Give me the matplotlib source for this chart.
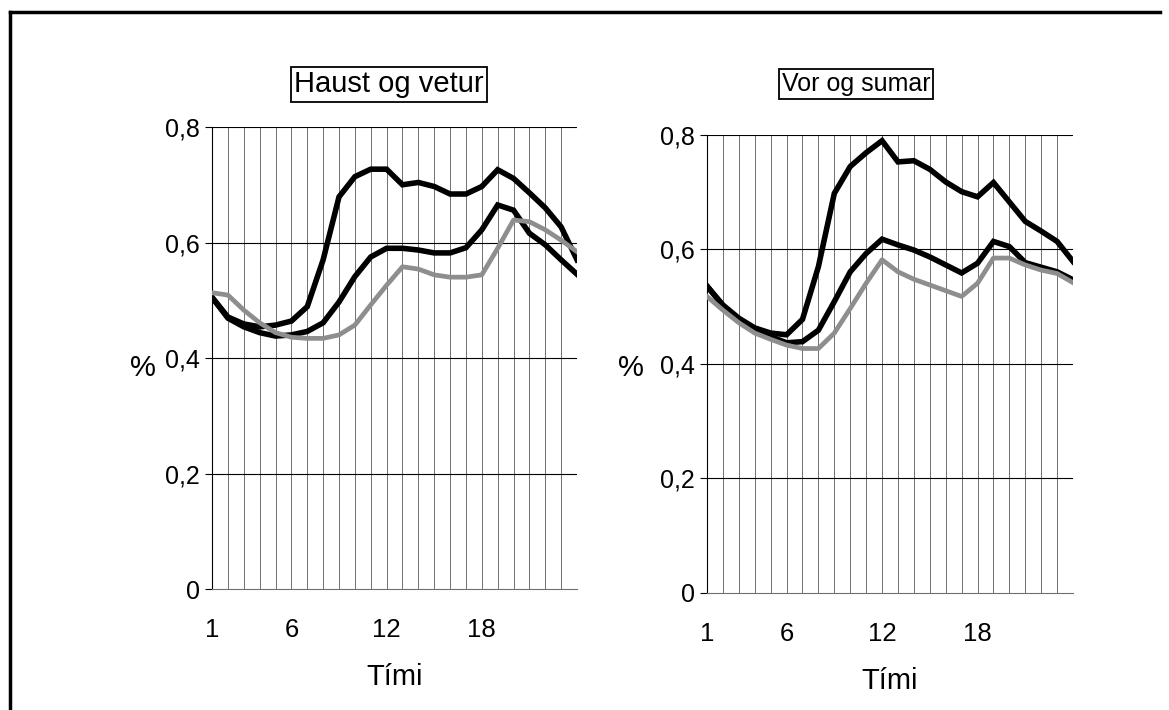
import matplotlib.pyplot as plt
from matplotlib.lines import Line2D

plt.rcParams['font.family'] = ['Liberation Sans', 'DejaVu Sans']

hours = list(range(1, 25))

# Haust og vetur
hv_top = [0.505, 0.471, 0.459, 0.454, 0.457, 0.464, 0.489, 0.570, 0.679, 0.714, 0.727, 0.727,
          0.700, 0.704, 0.697, 0.684, 0.684, 0.697, 0.726, 0.711, 0.686, 0.660, 0.627, 0.570]
hv_mid = [0.505, 0.469, 0.454, 0.444, 0.438, 0.440, 0.446, 0.461, 0.497, 0.541, 0.575, 0.590,
          0.590, 0.587, 0.582, 0.582, 0.591, 0.622, 0.665, 0.656, 0.616, 0.596, 0.570, 0.545]
hv_grey = [0.513, 0.509, 0.483, 0.461, 0.444, 0.436, 0.434, 0.434, 0.440, 0.457, 0.492, 0.526,
           0.558, 0.554, 0.544, 0.540, 0.540, 0.544, 0.590, 0.639, 0.636, 0.622, 0.604, 0.584]

# Vor og sumar
vs_top = [0.536, 0.503, 0.480, 0.463, 0.454, 0.451, 0.478, 0.570, 0.698, 0.745, 0.769, 0.790,
          0.753, 0.755, 0.740, 0.718, 0.701, 0.692, 0.717, 0.683, 0.649, 0.632, 0.614, 0.579]
vs_mid = [0.536, 0.502, 0.476, 0.458, 0.448, 0.437, 0.439, 0.459, 0.509, 0.561, 0.593, 0.618,
          0.608, 0.599, 0.587, 0.573, 0.559, 0.576, 0.614, 0.605, 0.577, 0.569, 0.561, 0.547]
vs_grey = [0.518, 0.494, 0.472, 0.454, 0.443, 0.433, 0.427, 0.427, 0.454, 0.497, 0.541, 0.582,
           0.561, 0.548, 0.538, 0.528, 0.518, 0.541, 0.585, 0.585, 0.573, 0.564, 0.558, 0.542]

yticks = [0, 0.2, 0.4, 0.6, 0.8]
ytick_labels = ['0', '0,2', '0,4', '0,6', '0,8']
xticks = [1, 6, 12, 18]

fig = plt.figure(figsize=(11.69, 7.10), dpi=100)

ax1 = fig.add_axes([0.1814, 0.1704, 0.3122, 0.6507])
ax2 = fig.add_axes([0.6048, 0.1648, 0.3131, 0.6451])

panels = [(ax1, hv_top, hv_mid, hv_grey), (ax2, vs_top, vs_mid, vs_grey)]

for ax, top, mid, grey in panels:
    for h in hours:
        ax.axvline(h, color='#707070', lw=0.7, zorder=1)
    for y in yticks[1:]:
        ax.axhline(y, color='black', lw=0.8, zorder=1)
    ax.plot(hours, top, color='black', lw=4, solid_joinstyle='miter', zorder=3)
    ax.plot(hours, mid, color='black', lw=4, solid_joinstyle='miter', zorder=3)
    ax.plot(hours, grey, color='#8e8e8e', lw=3.4, zorder=4)
    ax.set_xlim(1, 24)
    ax.set_ylim(0, 0.8)
    ax.set_yticks(yticks)
    ax.set_yticklabels(ytick_labels, fontsize=18)
    ax.set_xticks(xticks)
    ax.set_xticklabels([str(t) for t in xticks], fontsize=18.5)
    ax.tick_params(axis='y', length=5, width=0.8, pad=4)
    ax.tick_params(axis='x', length=0, pad=21)
    for s in ['top', 'right']:
        ax.spines[s].set_visible(False)
    ax.spines['left'].set_linewidth(0.8)
    ax.spines['bottom'].set_linewidth(0.8)
    ax.spines['bottom'].set_color('#707070')
    ax.set_xlabel('Tími', fontsize=21, labelpad=15)

fig.text(143 / 1169, 1 - 368 / 710, '%', fontsize=21, ha='center', va='center')
fig.text(631 / 1169, 1 - 368 / 710, '%', fontsize=21, ha='center', va='center')

box = dict(boxstyle='square,pad=0.12', facecolor='white', edgecolor='black', lw=1.3)
fig.text(389 / 1169, 1 - 84 / 710, 'Haust og vetur', fontsize=21, ha='center', va='center', bbox=box)
fig.text(856 / 1169, 1 - 84 / 710, 'Vor og sumar', fontsize=18, ha='center', va='center', bbox=box)

# frame around the whole chart (top and left edges visible in the scan)
fig.add_artist(Line2D([10 / 1169, 10 / 1169], [0, 1 - 12 / 710], color='black', lw=2.5,
                      transform=fig.transFigure))
fig.add_artist(Line2D([10 / 1169, 1160 / 1169], [1 - 12 / 710, 1 - 12 / 710], color='black', lw=2.5,
                      transform=fig.transFigure))

fig.savefig('out.png', dpi=100)
